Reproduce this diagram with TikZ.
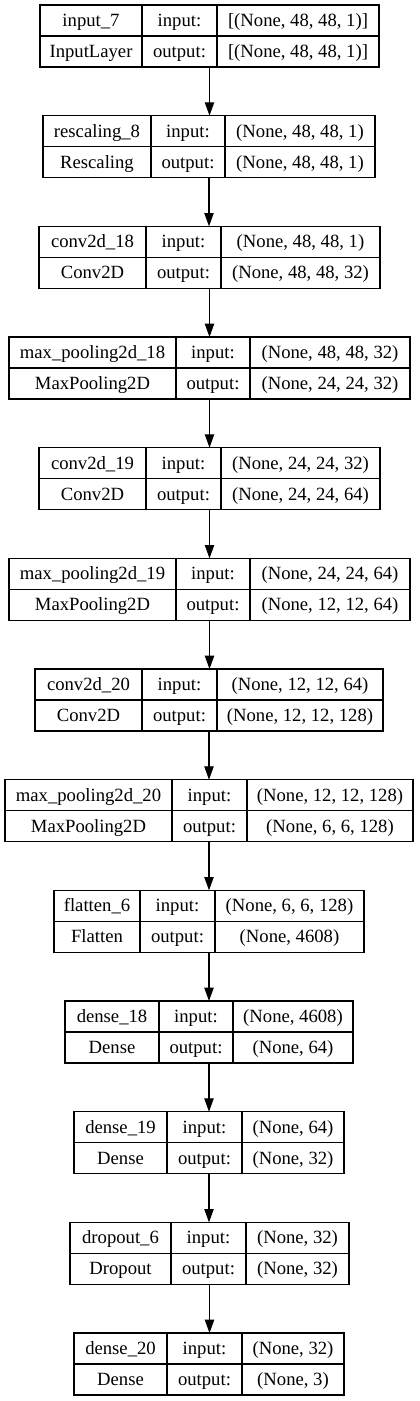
\documentclass[tikz,border=0pt]{standalone}
\usepackage{fontspec}
\setmainfont{Liberation Serif}
\usetikzlibrary{arrows.meta}
\begin{document}
\begin{tikzpicture}[x=0.75pt,y=-0.75pt,
  cell/.style={font=\fontsize{14}{16}\selectfont, inner sep=0pt, text height=11pt, text depth=2pt, anchor=center},
  layer/.style={draw, line width=0.9pt, rectangle, inner sep=0pt, outer sep=0pt},
  divider/.style={line width=0.9pt},
  link/.style={-{Triangle[length=10pt,width=7pt]}, line width=0.9pt}]
\fill[white] (0,0) rectangle (419,1401);
\useasboundingbox (0,0) rectangle (419,1401);
\foreach \k/\xa/\da/\db/\xb/\na/\nb/\oa/\ob in {
 1/40/142/217/379/input\_7/InputLayer/{[(None, 48, 48, 1)]}/{[(None, 48, 48, 1)]},
 2/43/151/225/375/rescaling\_8/Rescaling/{(None, 48, 48, 1)}/{(None, 48, 48, 1)},
 3/39/146/221/380/conv2d\_18/Conv2D/{(None, 48, 48, 1)}/{(None, 48, 48, 32)},
 4/9/176/250/410/max\_pooling2d\_18/MaxPooling2D/{(None, 48, 48, 32)}/{(None, 24, 24, 32)},
 5/39/146/221/380/conv2d\_19/Conv2D/{(None, 24, 24, 32)}/{(None, 24, 24, 64)},
 6/9/176/250/410/max\_pooling2d\_19/MaxPooling2D/{(None, 24, 24, 64)}/{(None, 12, 12, 64)},
 7/35/142/217/383/conv2d\_20/Conv2D/{(None, 12, 12, 64)}/{(None, 12, 12, 128)},
 8/5/172/247/413/max\_pooling2d\_20/MaxPooling2D/{(None, 12, 12, 128)}/{(None, 6, 6, 128)},
 9/54/140/215/364/flatten\_6/Flatten/{(None, 6, 6, 128)}/{(None, 4608)},
 10/65/159/233/353/dense\_18/Dense/{(None, 4608)}/{(None, 64)},
 11/74/167/242/344/dense\_19/Dense/{(None, 64)}/{(None, 32)},
 12/70/171/246/349/dropout\_6/Dropout/{(None, 32)}/{(None, 32)},
 13/74/167/242/344/dense\_20/Dense/{(None, 32)}/{(None, 3)}}{
  \pgfmathsetmacro\ty{5+(\k-1)*110.67}
  \pgfmathsetmacro\w{(\xb-\xa)*0.75}
  \node[layer, minimum width=\w pt, minimum height=46.5pt] (L\k) at ({(\xa+\xb)/2},\ty+31) {};
  \draw[divider] (\xa,\ty+31) -- (\xb,\ty+31);
  \draw[divider] (\da,\ty) -- (\da,\ty+62);
  \draw[divider] (\db,\ty) -- (\db,\ty+62);
  \node[cell] (L\k-name) at ({(\xa+\da)/2},\ty+15.5) {\na};
  \node[cell] (L\k-type) at ({(\xa+\da)/2},\ty+46.5) {\nb};
  \node[cell] (L\k-in) at ({(\da+\db)/2},\ty+15.5) {input:};
  \node[cell] (L\k-out) at ({(\da+\db)/2},\ty+46.5) {output:};
  \node[cell] (L\k-ins) at ({(\db+\xb)/2},\ty+15.5) {\oa};
  \node[cell] (L\k-outs) at ({(\db+\xb)/2},\ty+46.5) {\ob};
}
\foreach \k [evaluate=\k as \n using int(\k+1)] in {1,...,12}{
  \draw[link] (L\k.south) -- (L\k.south |- L\n.north);
}
\end{tikzpicture}
\end{document}
